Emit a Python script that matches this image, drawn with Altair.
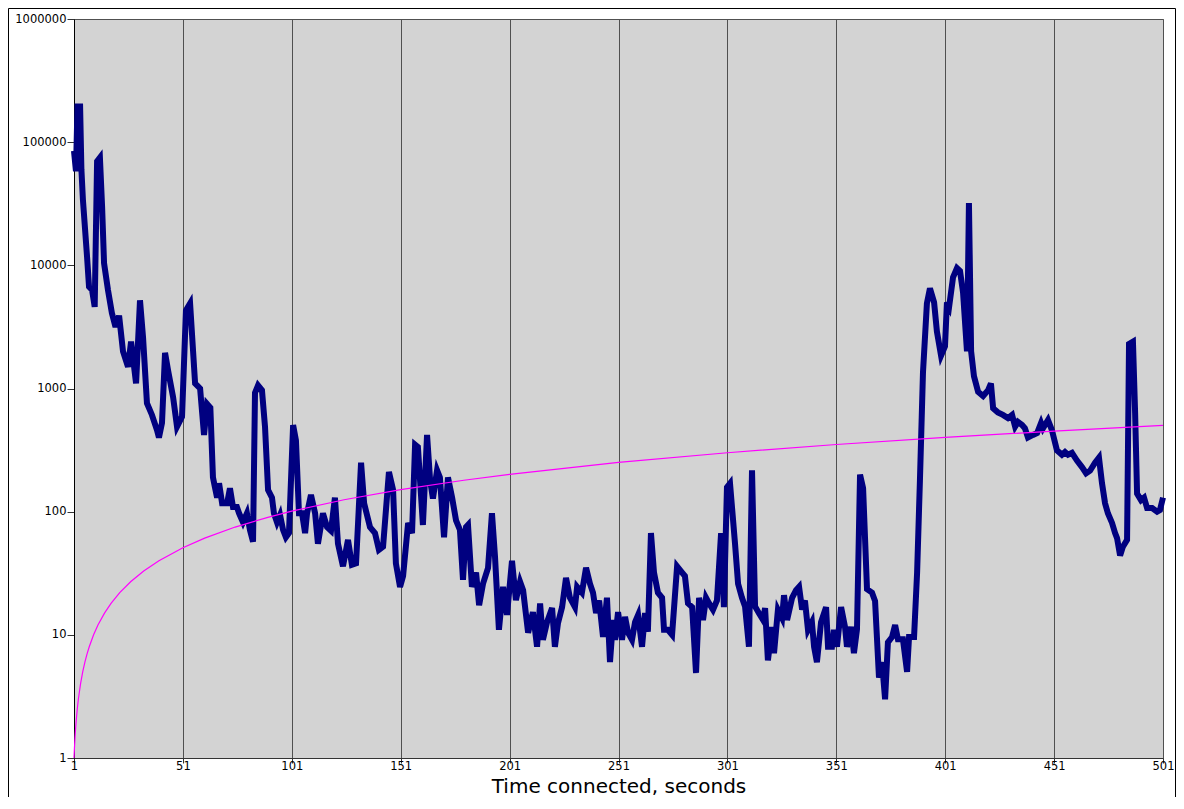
import altair as alt
import pandas as pd

# Time connected (seconds) and measured value for the navy series
t = [1.0, 1.9, 2.6, 3.8, 4.4, 5.1, 7.0, 7.9, 9.3, 10.5, 11.6, 12.9, 13.9, 14.8, 16.6, 18.4, 19.8, 20.7, 21.7,
     23.5, 25.8, 27.2, 29.5, 31.3, 32.7, 34.5, 36.8, 39.1, 40.0, 41.4, 42.8, 44.2, 46.5, 48.3, 50.6, 52.4,
     54.3, 56.6, 58.9, 60.7, 62.1, 63.6, 64.8, 65.7, 66.7, 67.6, 69.0, 71.3, 72.6, 74.0, 75.8, 76.8, 78.6,
     80.4, 81.8, 83.2, 84.1, 85.5, 87.3, 88.7, 90.1, 91.9, 92.8, 94.2, 95.6, 97.0, 98.3, 99.7, 101.6, 102.9,
     104.3, 105.7, 107.1, 108.0, 109.8, 111.7, 113.0, 115.3, 117.2, 119.0, 120.8, 122.2, 124.5, 126.8, 128.6,
     130.5, 132.8, 134.2, 136.9, 139.2, 141.0, 142.9, 145.6, 147.5, 148.8, 150.7, 152.1, 154.4, 156.2, 157.6,
     158.9, 161.2, 163.1, 164.5, 165.8, 167.7, 169.0, 170.9, 172.7, 174.6, 176.4, 178.2, 179.6, 181.0, 181.9,
     183.7, 185.6, 187.0, 188.8, 191.1, 192.9, 194.3, 196.1, 198.0, 199.8, 202.1, 203.9, 205.8, 207.2, 209.5,
     211.7, 213.6, 215.0, 216.3, 218.2, 220.5, 221.8, 223.2, 225.1, 226.9, 228.7, 231.0, 232.0, 234.2, 236.1,
     237.9, 239.3, 240.7, 242.1, 243.9, 245.7, 247.1, 248.5, 249.4, 250.8, 252.6, 254.0, 255.4, 257.2, 258.6,
     260.0, 261.8, 263.2, 264.5, 265.9, 267.3, 269.1, 271.0, 271.9, 273.7, 275.6, 277.9, 280.2, 281.5, 282.9,
     284.8, 286.6, 288.0, 289.8, 291.2, 292.6, 294.4, 296.2, 298.1, 299.4, 300.8, 302.2, 304.5, 305.9, 307.7,
     309.1, 310.9, 312.3, 313.7, 315.5, 317.4, 318.3, 319.6, 321.5, 322.4, 324.2, 326.1, 327.0, 328.4, 330.7,
     332.5, 333.9, 335.3, 336.6, 338.0, 339.8, 340.8, 342.1, 344.0, 346.3, 347.2, 349.0, 349.9, 351.3, 353.2,
     355.0, 355.9, 357.8, 359.1, 360.5, 361.9, 363.3, 365.1, 367.4, 368.8, 370.6, 372.0, 373.4, 374.7, 376.6,
     378.0, 379.3, 381.6, 383.5, 384.4, 386.7, 388.1, 389.4, 390.8, 392.6, 394.0, 395.9, 397.2, 399.1, 400.9,
     401.8, 402.8, 404.6, 406.4, 407.8, 409.2, 411.0, 411.9, 412.9, 414.2, 416.1, 418.4, 420.7, 422.0, 423.0,
     425.2, 427.5, 429.8, 431.7, 433.1, 434.4, 436.3, 437.6, 439.0, 441.3, 443.2, 445.0, 445.9, 448.2, 450.0,
     452.3, 454.6, 456.0, 457.4, 459.2, 461.5, 463.8, 465.7, 467.5, 469.8, 471.6, 473.0, 474.4, 475.7, 477.6,
     479.0, 479.9, 481.3, 482.6, 484.5, 485.4, 487.2, 488.2, 489.1, 490.9, 492.3, 493.7, 496.0, 498.3, 499.6,
     501.0]
v = [85000, 58000, 195000, 195000, 60000, 34000, 11700, 6700, 6300, 4600, 70000, 75000, 30000, 10400, 6300, 4100,
     3300, 3300, 3900, 2000, 1500, 2400, 1100, 5200, 2600, 760, 610, 460, 400, 525, 1950, 1400, 850, 490, 590,
     4300, 4900, 1100, 1000, 420, 750, 700, 190, 158, 130, 170, 117, 117, 155, 109, 109, 97, 82, 97, 71, 57, 920,
     1060, 970, 490, 150, 130, 97, 82, 94, 71, 62, 67, 505, 380, 97, 97, 67, 97, 137, 97, 55, 97, 75, 70, 130, 55,
     36, 59, 37, 38, 250, 117, 75, 67, 49, 52, 210, 150, 38, 24.5, 30, 81, 67, 350, 335, 78, 420, 180, 128, 217,
     190, 62, 190, 130, 85, 71, 28, 75, 78, 24.5, 32, 17.4, 26, 35, 97, 43, 11, 24.5, 14.5, 40, 19.1, 27, 23,
     10.4, 15.3, 8, 18, 9.1, 12.7, 16.5, 8, 12.4, 16.8, 29, 20, 16.8, 24.5, 22, 35, 26, 22, 15, 19, 9.6, 20, 6,
     13.2, 9.1, 15.3, 9.1, 14, 10.4, 9.1, 12.7, 14.5, 8, 15, 10.6, 67, 32, 22, 20, 11, 11, 10, 36, 32, 30, 18,
     16.8, 4.9, 20, 13.2, 20, 18, 16, 19, 67, 16.8, 158, 170, 55, 26, 20, 17, 8, 217, 17, 15, 13.2, 16.5, 6.2,
     11.6, 7.1, 16, 13.7, 21, 13.2, 20, 23, 24.5, 16, 19, 11, 12.7, 8, 6, 12.7, 16.8, 8, 8, 11, 8, 16.8, 11.6,
     8, 11.6, 7.1, 11.1, 200, 155, 23.5, 22, 18.8, 4.5, 6, 3, 8.7, 9.6, 12, 9.2, 9.2, 5, 9.6, 9.6, 32, 180, 1350,
     4900, 6500, 5000, 2900, 1850, 2200, 5000, 4600, 8000, 9500, 9000, 6000, 2000, 32000, 2000, 1260, 940, 870,
     970, 1100, 690, 640, 610, 575, 610, 490, 535, 505, 475, 400, 420, 435, 525, 475, 555, 460, 315, 290, 305,
     290, 300, 260, 230, 205, 215, 250, 275, 170, 117, 97, 81, 67, 61, 44, 52, 59, 2300, 2400, 630, 140, 124,
     130, 107, 107, 100, 103, 130]

# Magenta reference curve
ref_t = [1, 1.05, 1.1, 1.2, 1.35, 1.5, 1.75, 2, 2.5, 3, 4, 5, 6, 7, 8, 10, 12, 15, 18, 22, 27, 33, 40, 51,
         61, 75, 90, 101, 125, 151, 180, 201, 251, 301, 351, 401, 451, 501]
ref_v = [1, 1.05, 1.1, 1.2, 1.35, 1.5, 1.75, 2, 2.5, 3, 4, 5, 6, 7, 8, 10, 12, 15, 18, 22, 27, 33, 40, 51,
         61, 75, 90, 101, 125, 151, 180, 201, 251, 301, 351, 401, 451, 501]

x_ticks = [1, 51, 101, 151, 201, 251, 301, 351, 401, 451, 501]
y_ticks = [1, 10, 100, 1000, 10000, 100000, 1000000]

W, H = 1089, 739
FONT = "DejaVu Sans"

main_df = pd.DataFrame({"t": t, "v": v, "i": list(range(len(t)))})
ref_df = pd.DataFrame({"t": ref_t, "v": ref_v, "i": list(range(len(ref_t)))})

x_enc = alt.X("t:Q",
              scale=alt.Scale(domain=[1, 501], nice=False, zero=False),
              axis=alt.Axis(values=x_ticks, grid=True, gridColor="#505050", gridWidth=1, gridOpacity=1,
                            tickColor="#333333", tickSize=5, domainColor="#333333", labelPadding=-3,
                            labelFontSize=11.5, labelColor="black", labelFont=FONT,
                            title="Time connected, seconds", titleFontSize=20, titleFontWeight="normal",
                            titleFont=FONT, titleColor="black", titleBaseline="alphabetic", titleY=34,
                            labelFlush=False))
y_enc = alt.Y("v:Q",
              scale=alt.Scale(type="log", domain=[1, 1000000], nice=False),
              axis=alt.Axis(values=y_ticks, format="d", grid=False, tickColor="#333333", tickSize=7,
                            domainColor="black", labelPadding=1, labelFontSize=11.5, labelColor="black",
                            labelFont=FONT, title="", labelFlush=False))

frame = alt.Chart(pd.DataFrame({"a": [0]})).mark_rect(fillOpacity=0, stroke="black", strokeWidth=1).encode(
    x=alt.value(-65.5), x2=alt.value(W + 12.5), y=alt.value(-10.5), y2=alt.value(H + 80))

navy = alt.Chart(main_df).mark_line(color="#000080", strokeWidth=6).encode(
    x=x_enc, y=y_enc, order="i:Q")

magenta = alt.Chart(ref_df).mark_line(color="#ff00ff", strokeWidth=1.2).encode(
    x="t:Q", y="v:Q", order="i:Q")

chart = alt.layer(frame, navy, magenta).properties(
    width=W, height=H,
    autosize=alt.AutoSizeParams(type="none"),
    padding={"left": 66, "top": 11, "right": 13, "bottom": 39},
).configure_view(fill="#d3d3d3", stroke="#505050", strokeWidth=1)

chart.save("out.html", embed_options={"renderer": "svg", "actions": False})
